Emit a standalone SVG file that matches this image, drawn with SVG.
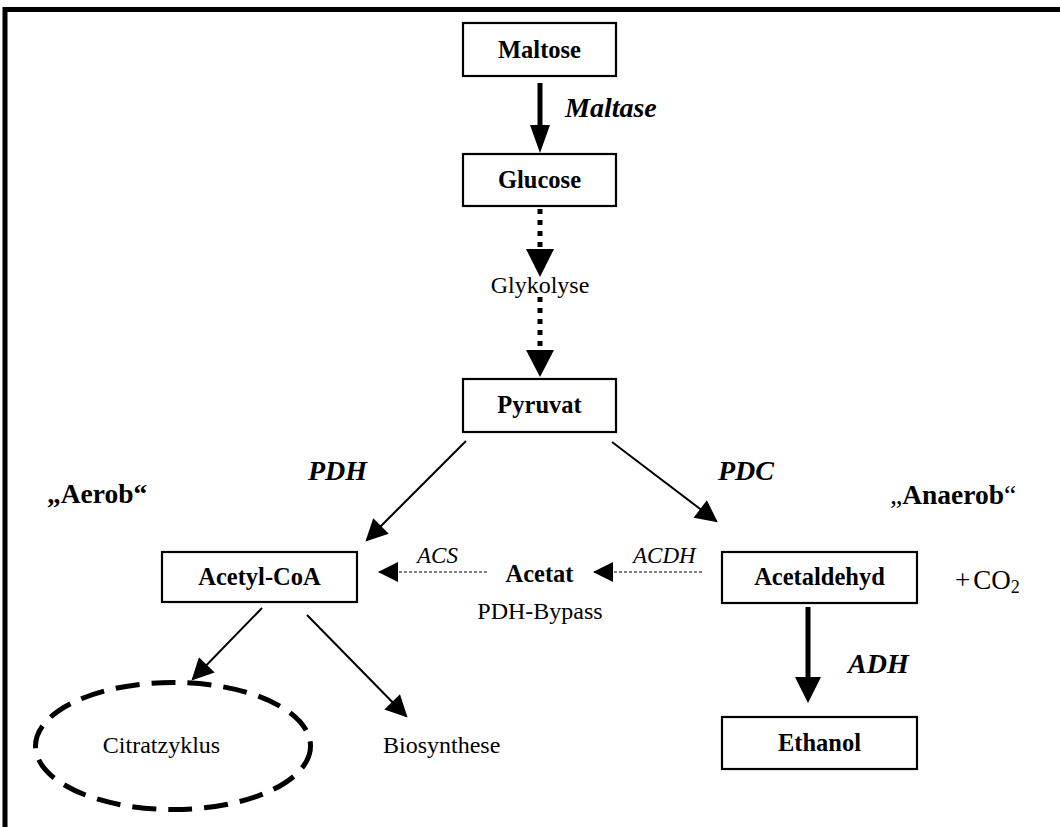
<svg xmlns="http://www.w3.org/2000/svg" width="1060" height="827" viewBox="0 0 1060 827">
<style>
.box{fill:#fff;stroke:#000;stroke-width:2.2}
.bt{font-family:"Liberation Serif","Times New Roman",serif;font-weight:bold;font-size:24.5px;text-anchor:middle}
.rt{font-family:"Liberation Serif","Times New Roman",serif;font-size:24px}
.it{font-family:"Liberation Serif","Times New Roman",serif;font-style:italic;font-size:23px}
.bi{font-family:"Liberation Serif","Times New Roman",serif;font-style:italic;font-weight:bold;font-size:28px}
.big{font-family:"Liberation Serif","Times New Roman",serif;font-size:27.5px}
.co{font-family:"Liberation Serif","Times New Roman",serif;font-size:27px}
.sub{font-size:18px}
.thin{stroke:#000;stroke-width:2;fill:none}
.dash{stroke:#000;stroke-width:1;stroke-dasharray:3 2;fill:none}
.dot{stroke:#000;stroke-width:5;stroke-dasharray:5 6;fill:none}
</style>
<defs>
<marker id="ah" viewBox="0 0 10 10" refX="9" refY="5" markerUnits="userSpaceOnUse" markerWidth="27" markerHeight="22" orient="auto"><path d="M0,0 L10,5 L0,10 z" fill="#000"/></marker>
<marker id="ahd" viewBox="0 0 10 10" refX="10" refY="5" markerUnits="userSpaceOnUse" markerWidth="22" markerHeight="20" orient="auto"><path d="M0,0 L10,5 L0,10 z" fill="#000"/></marker>
</defs>
<path d="M5,827 V9.5 H1060" fill="none" stroke="#000" stroke-width="5"/>
<g id="connectors">
<rect x="537.5" y="83" width="5" height="44" fill="#000"/>
<polygon points="530,125 550,125 540,153" fill="#000"/>
<line class="dot" x1="540" y1="209" x2="540" y2="249"/>
<polygon points="526,249 554,249 540,277" fill="#000"/>
<line class="dot" x1="540" y1="297" x2="540" y2="350"/>
<polygon points="526,350 554,350 540,377" fill="#000"/>
<line class="thin" x1="466" y1="441" x2="367" y2="540" marker-end="url(#ah)"/>
<line class="thin" x1="612" y1="442" x2="716" y2="521" marker-end="url(#ah)"/>
<line class="dash" x1="487" y1="572" x2="378" y2="572" marker-end="url(#ahd)"/>
<line class="dash" x1="702" y1="572" x2="593" y2="572" marker-end="url(#ahd)"/>
<line class="thin" x1="262" y1="608" x2="193" y2="679" marker-end="url(#ah)"/>
<line class="thin" x1="307" y1="615" x2="406" y2="716" marker-end="url(#ah)"/>
<rect x="805.5" y="607" width="5" height="72" fill="#000"/>
<polygon points="795,677 821,677 808,703" fill="#000"/>
</g>
<g id="maltose"><rect class="box" x="463" y="23" width="153" height="53"/><text class="bt" x="539.5" y="58">Maltose</text></g>
<g id="glucose"><rect class="box" x="463" y="154" width="153" height="52"/><text class="bt" x="539.5" y="188">Glucose</text></g>
<g id="pyruvat"><rect class="box" x="463" y="379" width="153" height="53"/><text class="bt" x="539.5" y="413">Pyruvat</text></g>
<g id="acetylcoa"><rect class="box" x="162" y="552" width="195" height="50"/><text class="bt" x="259.5" y="585">Acetyl-CoA</text></g>
<g id="acetaldehyd"><rect class="box" x="722" y="552" width="195" height="51"/><text class="bt" x="819.5" y="585">Acetaldehyd</text></g>
<g id="ethanol"><rect class="box" x="722" y="717" width="195" height="52"/><text class="bt" x="819.5" y="751">Ethanol</text></g>
<g id="acetat"><text class="bt" x="539.5" y="582">Acetat</text></g>
<g id="citratzyklus"><ellipse cx="173" cy="746" rx="137.5" ry="63.5" fill="none" stroke="#000" stroke-width="5" stroke-dasharray="24 12"/><text class="rt" x="161.5" y="753" text-anchor="middle">Citratzyklus</text></g>
<g id="biosynthese"><text class="rt" x="383" y="753">Biosynthese</text></g>
<g id="labels">
<text class="bi" x="565" y="117">Maltase</text>
<text class="rt" x="540" y="293" text-anchor="middle">Glykolyse</text>
<text class="bi" x="308" y="480">PDH</text>
<text class="bi" x="718" y="480">PDC</text>
<text class="big" x="47" y="503" font-weight="bold">„Aerob“</text>
<text class="big" x="890" y="504">„<tspan font-weight="bold">Anaerob</tspan>“</text>
<text class="it" x="417" y="563">ACS</text>
<text class="it" x="633" y="563">ACDH</text>
<text class="rt" x="540" y="619" text-anchor="middle">PDH-Bypass</text>
<text class="co" x="955" y="589">+<tspan dx="3">CO</tspan><tspan class="sub" dy="4">2</tspan></text>
<text class="bi" x="848" y="673">ADH</text>
</g>
</svg>
